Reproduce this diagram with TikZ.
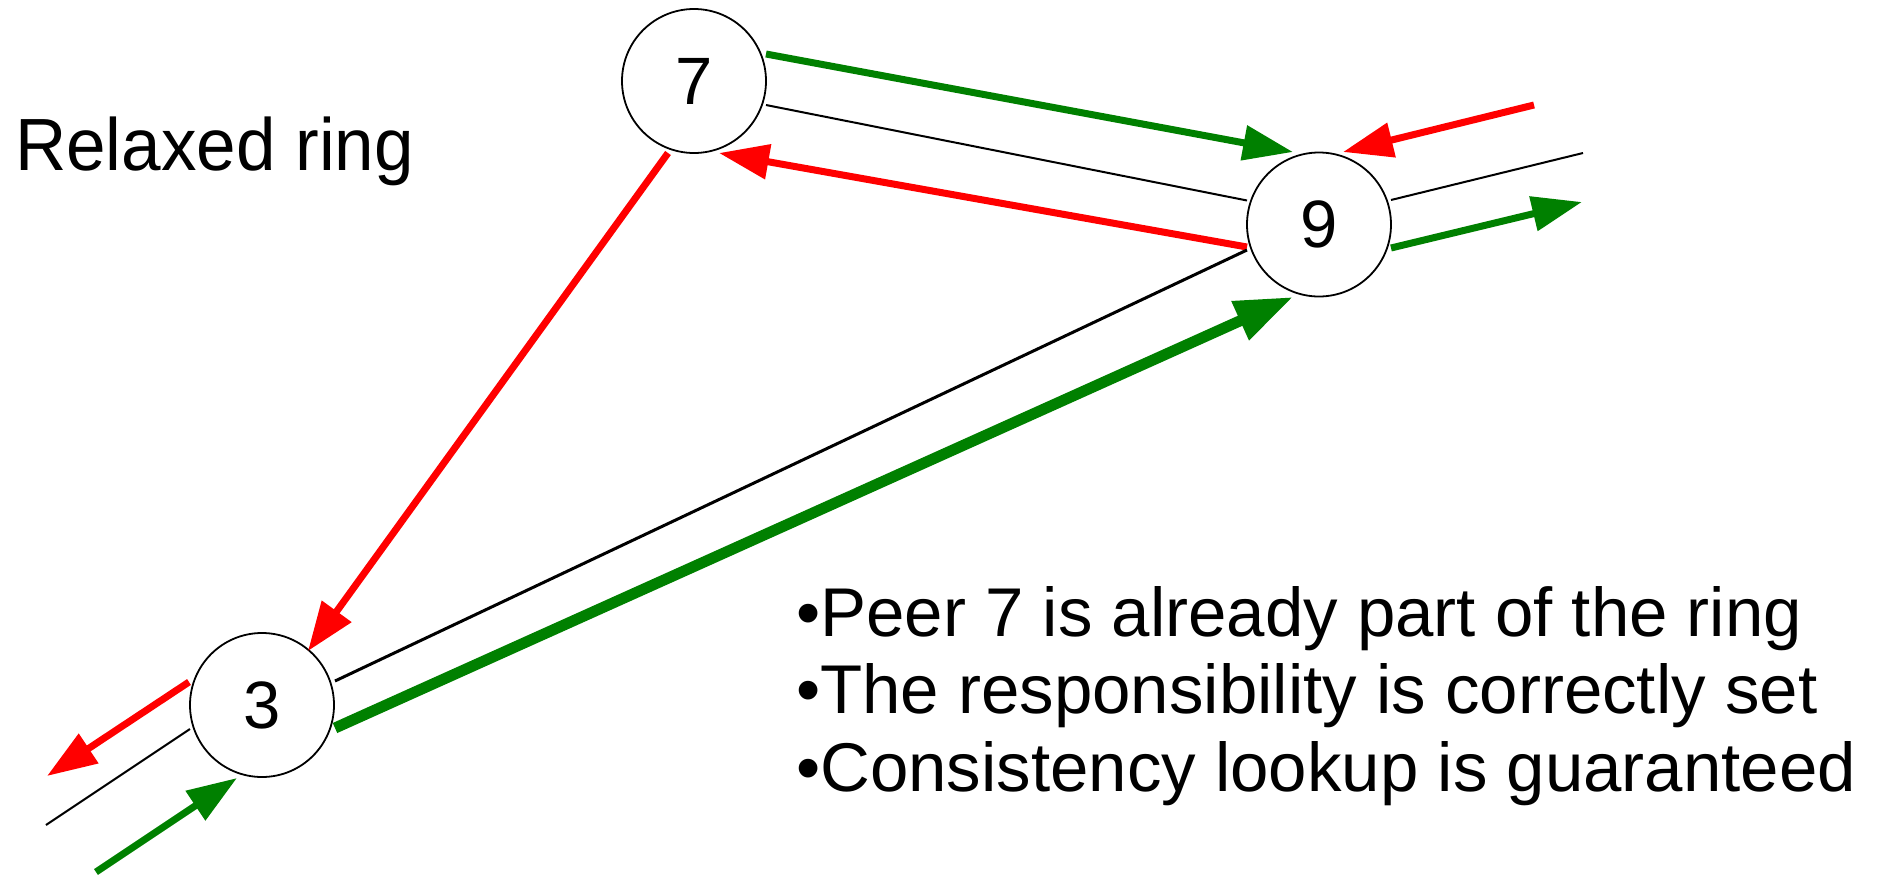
\documentclass[tikz,border=0pt]{standalone}
\usepackage{fontspec}
\setmainfont{Liberation Sans}
\usetikzlibrary{arrows.meta,calc}
\definecolor{pgreen}{RGB}{0,128,0}
\definecolor{pred}{RGB}{255,0,0}
\begin{document}
\begin{tikzpicture}[x=1pt,y=-1pt,
  peer/.style={circle,draw=black,line width=1.8pt,fill=white,minimum size=144pt,inner sep=0pt,
    font=\fontsize{67}{80}\selectfont},
  ringline/.style={black,line width=2pt},
  midline/.style={black,line width=3pt},
  greenarrow/.style={pgreen,line width=7pt,-{Triangle[length=50pt,width=34pt]}},
  redarrow/.style={pred,line width=7pt,-{Triangle[length=50pt,width=34pt]}},
  bigarrow/.style={pgreen,line width=11pt,-{Triangle[length=58pt,width=40pt]}},
  bullet/.style={anchor=base west,inner sep=0pt,font=\fontsize{69}{80}\selectfont}]
\useasboundingbox (0,0) rectangle (1880,878);

\node[peer] (n7) at (694,81) {7};
\node[peer] (n9) at (1319,224.5) {9};
\node[peer] (n3) at (262,705) {3};

\coordinate (o9g) at (1582,202);
\coordinate (o9b) at (1583,153);
\coordinate (i9r) at (1534,105);
\coordinate (o3r) at (47,776);
\coordinate (o3b) at (46,825);
\coordinate (i3g) at (96,872);

% 7 - 9
\draw[greenarrow] ($(n7.center)+(72,-27)$) -- ($(n9.center)+(-26,-72.5)$);
\draw[ringline] ($(n7.center)+(72,24)$) -- ($(n9.center)+(-72,-24)$);
\draw[redarrow] ($(n9.center)+(-72,22.5)$) -- ($(n7.center)+(25,72)$);
% 7 - 3
\draw[pred,line width=7pt,-{Triangle[length=49pt,width=35pt]}] ($(n7.center)+(-26,72)$) -- ($(n3.center)+(46,-54)$);
% 3 - 9
\draw[midline] ($(n3.center)+(73,-24)$) -- ($(n9.center)+(-72,25.5)$);
\draw[bigarrow] ($(n3.center)+(73,23)$) -- ($(n9.center)+(-26,72.5)$);
% 9 outside
\draw[greenarrow] ($(n9.center)+(72,23.5)$) -- (o9g);
\draw[ringline] ($(n9.center)+(72,-24.5)$) -- (o9b);
\draw[redarrow] (i9r) -- ($(n9.center)+(24,-72.5)$);
% 3 outside
\draw[redarrow] ($(n3.center)+(-73,-23)$) -- (o3r);
\draw[ringline] ($(n3.center)+(-72,24)$) -- (o3b);
\draw[greenarrow] (i3g) -- ($(n3.center)+(-25,73)$);

\node[anchor=base west,inner sep=0pt,font=\fontsize{74}{88}\selectfont] (title) at (15,170) {\scalebox{0.96}[1]{Relaxed ring}};

\node[bullet] (b1) at (796,636) {•Peer 7 is already part of the ring};
\node[bullet] (b2) at (796,713) {•The responsibility is correctly set};
\node[bullet] (b3) at (796,791) {•Consistency lookup is guaranteed};
\end{tikzpicture}
\end{document}
